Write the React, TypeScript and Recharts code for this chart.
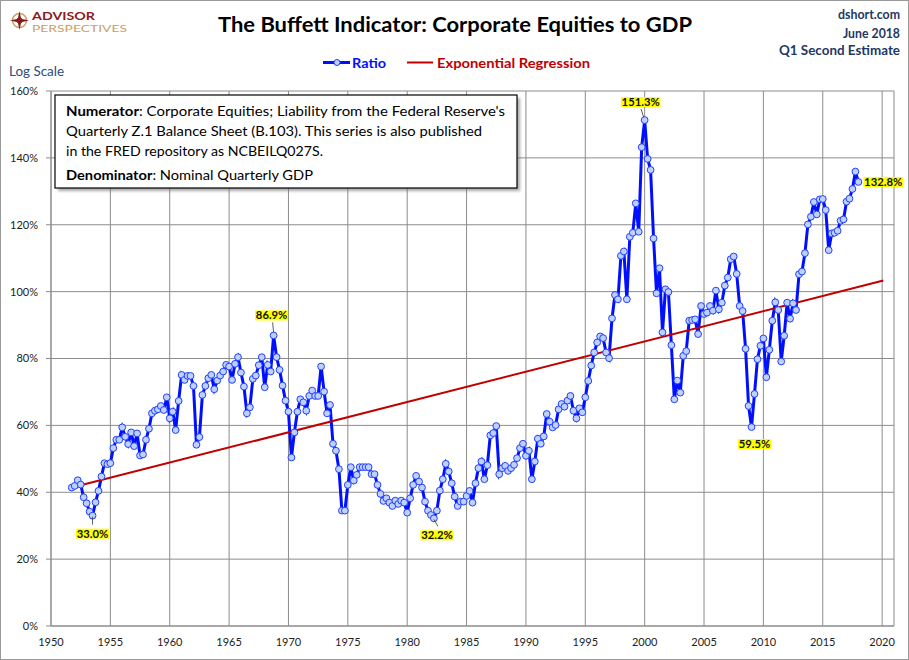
import React from "react";
import { CartesianGrid, LabelList, Line, LineChart, XAxis, YAxis } from "recharts";

// quarterly ratio of corporate equities to GDP, 1951 Q4 .. 2018 Q1 (percent)
const FIRST_QUARTER = 1951.75;

const ratioPct = [
  41.4, 41.9, 43.6, 42.3, 38.5, 36.7, 34.2, 33.0, 37.0, 40.4,
  44.7, 48.7, 48.4, 48.7, 53.2, 55.7, 55.7, 59.4, 56.6, 54.4,
  57.9, 53.8, 57.6, 51.0, 51.3, 55.7, 59.0, 63.6, 64.4, 64.8,
  65.8, 64.6, 68.4, 62.1, 64.1, 58.6, 67.3, 75.1, 73.6, 74.8,
  74.8, 71.8, 54.2, 56.5, 69.1, 71.8, 74.1, 75.1, 70.8, 73.4,
  74.9, 76.1, 78.1, 77.6, 73.6, 78.4, 80.4, 75.8, 71.6, 63.6,
  65.4, 73.9, 74.9, 78.0, 80.4, 71.4, 78.1, 76.1, 86.9, 80.4,
  76.6, 71.9, 67.4, 64.1, 50.4, 57.9, 64.1, 67.8, 66.9, 64.4,
  68.8, 70.4, 68.8, 68.8, 77.6, 70.1, 63.6, 66.1, 54.5, 52.4,
  46.9, 34.5, 34.5, 42.2, 47.5, 43.5, 45.2, 47.5, 47.5, 47.5,
  47.5, 45.4, 45.4, 42.2, 39.5, 37.4, 38.2, 36.9, 35.9, 37.5,
  36.5, 37.5, 36.9, 33.9, 38.2, 42.2, 44.9, 43.2, 41.4, 37.2,
  34.5, 33.2, 32.2, 34.5, 40.5, 43.9, 48.5, 46.2, 42.7, 38.7,
  35.9, 37.2, 37.2, 38.9, 40.4, 36.9, 42.7, 47.2, 49.2, 43.9,
  48.1, 57.0, 57.7, 59.8, 45.4, 47.2, 47.9, 46.4, 47.2, 48.2,
  50.2, 53.2, 54.5, 50.9, 52.4, 43.9, 49.2, 56.0, 54.5, 56.7,
  63.4, 61.1, 59.4, 60.1, 64.8, 66.4, 65.6, 67.4, 68.8, 64.4,
  62.1, 65.1, 63.9, 68.4, 73.3, 77.9, 81.8, 84.8, 86.6, 86.1,
  81.8, 80.1, 92.0, 99.0, 97.7, 110.7, 112.0, 97.7, 116.4, 117.6,
  126.4, 117.9, 143.2, 151.3, 139.7, 136.4, 115.9, 99.5, 107.0, 87.8,
  100.7, 99.9, 84.0, 67.8, 73.4, 69.8, 80.8, 82.2, 91.3, 91.5,
  91.7, 87.3, 95.7, 93.3, 93.7, 95.7, 94.3, 100.3, 94.7, 96.7,
  101.8, 104.2, 109.7, 110.5, 105.3, 95.7, 94.2, 82.9, 65.8, 59.5,
  69.4, 79.8, 83.8, 86.0, 74.4, 82.6, 91.3, 96.8, 94.5, 79.1,
  86.8, 96.7, 91.9, 96.5, 94.5, 105.2, 106.0, 111.5, 120.1, 122.4,
  126.8, 123.1, 127.6, 127.7, 124.4, 112.4, 117.4, 117.6, 118.2, 121.2,
  121.6, 126.9, 127.8, 130.7, 135.9, 132.8,
];

const regressionYears = [1951.75, 2020.1];
const regressionPct = [41.4, 103.3];

const yearTicks = [1950, 1955, 1960, 1965, 1970, 1975, 1980, 1985, 1990, 1995, 2000, 2005, 2010, 2015, 2020];
const pctTicks = [0, 20, 40, 60, 80, 100, 120, 140, 160];

const highlights = [
  { index: 7, text: "33.0%" },
  { index: 68, text: "86.9%" },
  { index: 122, text: "32.2%" },
  { index: 193, text: "151.3%" },
  { index: 229, text: "59.5%" },
  { index: 265, text: "132.8%" },
];

const ratioData = ratioPct.map((v, i) => ({ year: FIRST_QUARTER + i / 4, ratio: v }));
const regressionData = regressionYears.map((y, i) => ({ year: y, reg: regressionPct[i] }));

const FONT = "Lato, 'Open Sans', sans-serif";
const GRID = "#8c8c8c";

// where each callout sits relative to its point
const placement: Record<number, { dx: number; dy: number; start?: boolean; leader?: number[] }> = {
  7: { dx: 0, dy: 18, leader: [0, 1, 0, 9] },
  68: { dx: -2, dy: -20, leader: [-1, -13, 0, -3] },
  122: { dx: 3, dy: 17, leader: [0, 1, 4, 8] },
  193: { dx: -4, dy: -18, leader: [-3.6, -11, -1, -3] },
  229: { dx: 3, dy: 17 },
  265: { dx: 5, dy: 0, start: true },
};

function HighlightLabel(props: any) {
  const index = props.index;
  const x = props.x ?? props.viewBox?.x;
  const y = props.y ?? props.viewBox?.y;
  const h = highlights.find((d) => d.index === index);
  if (!h || x == null || y == null) return null;
  const p = placement[h.index];
  const w = h.text.length * 6.6;
  const cx = x + p.dx;
  const cy = y + p.dy;
  const left = p.start ? cx : cx - w / 2;
  return (
    <g>
      {p.leader && (
        <line
          x1={x + p.leader[0]}
          y1={y + p.leader[1]}
          x2={x + p.leader[2]}
          y2={y + p.leader[3]}
          stroke="#333"
          strokeWidth={0.8}
        />
      )}
      <rect x={left} y={cy - 5} width={w} height={10} fill="#ffff00" />
      <text
        x={left + w / 2}
        y={cy + 4}
        textAnchor="middle"
        fontFamily={FONT}
        fontSize={11}
        fontWeight={700}
        fill="#111"
        textLength={w - 1.5}
        lengthAdjust="spacingAndGlyphs"
      >
        {h.text}
      </text>
    </g>
  );
}

function Overlay() {
  const navy = "#1f3864";
  return (
    <svg
      width={909}
      height={660}
      style={{ position: "absolute", left: 0, top: 0, pointerEvents: "none" }}
      fontFamily={FONT}
    >
      <defs>
        <filter id="shadow" x="-5%" y="-5%" width="115%" height="125%">
          <feGaussianBlur stdDeviation="1.5" />
        </filter>
      </defs>
      <rect x={0.5} y={0.5} width={908} height={659} fill="none" stroke="#9a9a9a" />

      {/* logo */}
      <circle cx={19.5} cy={20.5} r={7} fill="none" stroke="#c9a063" strokeWidth={1.5} />
      <polygon
        points="19.5,11 21.2,18.8 29,20.5 21.2,22.2 19.5,30 17.8,22.2 10,20.5 17.8,18.8"
        fill="#8b1c1f"
      />
      <circle cx={19.5} cy={20.5} r={3} fill="#8b1c1f" />
      <text x={32} y={19.5} fontSize={10.5} fontWeight={700} fill="#8b1c1f" textLength={63} lengthAdjust="spacingAndGlyphs">
        ADVISOR
      </text>
      <text x={32} y={32} fontSize={9.5} fill="#c9a063" textLength={95} lengthAdjust="spacingAndGlyphs">
        PERSPECTIVES
      </text>

      {/* title */}
      <text x={455} y={32} textAnchor="middle" fontSize={21} fontWeight={700} fill="#000" textLength={474} lengthAdjust="spacingAndGlyphs">
        The Buffett Indicator: Corporate Equities to GDP
      </text>

      {/* right header */}
      <g fontSize={14} fontWeight={700} fill={navy} textAnchor="end">
        <text x={900} y={19} textLength={62} lengthAdjust="spacingAndGlyphs">dshort.com</text>
        <text x={900} y={38} textLength={57} lengthAdjust="spacingAndGlyphs">June 2018</text>
        <text x={900} y={55} textLength={121} lengthAdjust="spacingAndGlyphs">Q1 Second Estimate</text>
      </g>

      {/* legend */}
      <line x1={323} y1={62.5} x2={350} y2={62.5} stroke="#0010ff" strokeWidth={3} />
      <circle cx={337} cy={62.5} r={3} fill="#bfd0ff" stroke="#2040ff" strokeWidth={1} />
      <text x={352} y={67.5} fontSize={14} fontWeight={700} fill="#0010ff" textLength={34} lengthAdjust="spacingAndGlyphs">
        Ratio
      </text>
      <line x1={407} y1={62.5} x2={433} y2={62.5} stroke="#c00000" strokeWidth={2} />
      <text x={437} y={67.5} fontSize={14} fontWeight={700} fill="#c00000" textLength={153} lengthAdjust="spacingAndGlyphs">
        Exponential Regression
      </text>

      <text x={9} y={75.5} fontSize={14} fill="#2e4a7d" textLength={55} lengthAdjust="spacingAndGlyphs">
        Log Scale
      </text>

      {/* note box */}
      <rect x={58} y={98} width={462} height={93} fill="#6f6f6f" opacity={0.6} filter="url(#shadow)" />
      <rect x={55} y={95} width={462} height={93} fill="#fff" stroke="#000" strokeWidth={1.2} />
      <g fontSize={14} fill="#000" style={{ whiteSpace: "pre" }}>
        <text x={66} y={115.5} textLength={439} lengthAdjust="spacingAndGlyphs">
          <tspan fontWeight={700}>Numerator</tspan>: Corporate Equities; Liability from the Federal Reserve's
        </text>
        <text x={66} y={135.5} textLength={416} lengthAdjust="spacingAndGlyphs">
          Quarterly Z.1 Balance Sheet (B.103). This series is also published
        </text>
        <text x={66} y={155.5} textLength={257} lengthAdjust="spacingAndGlyphs">
          in the FRED repository  as NCBEILQ027S.
        </text>
        <text x={66} y={180} textLength={247} lengthAdjust="spacingAndGlyphs">
          <tspan fontWeight={700}>Denominator</tspan>: Nominal Quarterly GDP
        </text>
      </g>
    </svg>
  );
}

export default function App() {
  return (
    <div style={{ position: "relative", width: 909, height: 660, background: "#fff", overflow: "hidden" }}>
      <style>{"body{margin:0}"}</style>
      <LineChart width={909} height={660} margin={{ top: 91, right: 15, left: 6, bottom: 4 }}>
        <CartesianGrid stroke={GRID} strokeWidth={1} />
        <XAxis
          dataKey="year"
          type="number"
          domain={[1950, 2021]}
          ticks={yearTicks}
          allowDuplicatedCategory={false}
          height={30}
          tickLine={false}
          axisLine={{ stroke: GRID }}
          tickMargin={6}
          tick={{ fill: "#222", fontSize: 11, fontFamily: FONT }}
        />
        <YAxis
          type="number"
          domain={[0, 160]}
          ticks={pctTicks}
          width={45}
          tickSize={5}
          tickMargin={8}
          tickLine={{ stroke: GRID }}
          axisLine={{ stroke: GRID }}
          tickFormatter={(v) => `${v}%`}
          tick={{ fill: "#222", fontSize: 11, fontFamily: FONT }}
        />
        <Line
          data={ratioData}
          dataKey="ratio"
          type="linear"
          stroke="#0010ff"
          strokeWidth={3}
          dot={{ r: 3.4, fill: "#bfd0ff", stroke: "#2040ff", strokeWidth: 1 }}
          activeDot={false}
          isAnimationActive={false}
        >
          <LabelList dataKey="ratio" content={HighlightLabel} />
        </Line>
        <Line
          data={regressionData}
          dataKey="reg"
          type="linear"
          stroke="#c00000"
          strokeWidth={2}
          dot={false}
          activeDot={false}
          isAnimationActive={false}
        />
      </LineChart>
      <Overlay />
    </div>
  );
}
